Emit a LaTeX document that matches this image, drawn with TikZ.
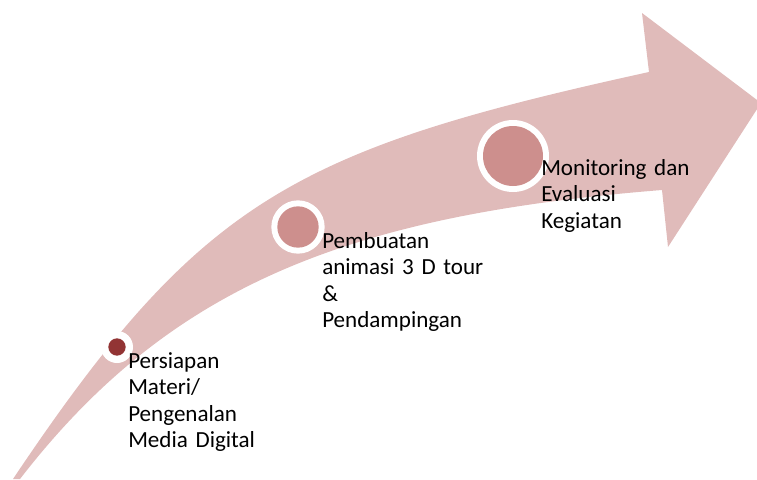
\documentclass[tikz,border=0pt]{standalone}
\usepackage{fontspec}
\setmainfont{Carlito}
\definecolor{arrowpink}{HTML}{E0BBBA}
\definecolor{dotpink}{HTML}{CD8F8D}
\definecolor{dotdark}{HTML}{923434}
\begin{document}
\begin{tikzpicture}[x=0.75pt,y=-0.75pt,
  ring/.style={circle,fill=white,inner sep=0pt},
  dot/.style={circle,inner sep=0pt},
  label/.style={anchor=base west,inner sep=0pt,align=left,text width=200pt,
    font=\fontsize{17.3}{19.9}\selectfont,text=black}]
\useasboundingbox (0,0) rectangle (757,479);
\clip (0,0) rectangle (757,479);
% curved arrow
\fill[arrowpink] (13,479) .. controls (200,200) and (293,150) .. (649,72)
  -- (642,13) -- (761,103) -- (668,247) -- (662,190)
  .. controls (349,215) and (170,285) .. (20,479) -- cycle;
% circles
\node[ring,minimum size=24] (r1) at (117,347) {};
\node[dot,fill=dotdark,minimum size=13] (c1) at (r1) {};
\node[ring,minimum size=40] (r2) at (298,227) {};
\node[dot,fill=dotpink,minimum size=31] (c2) at (r2) {};
\node[ring,minimum size=54] (r3) at (513,156) {};
\node[dot,fill=dotpink,minimum size=45] (c3) at (r3) {};
% labels
\node[label] (t1) at (128,368) {Persiapan\\Materi/\\Pengenalan\\Media Digital};
\node[label] (t2) at (322,248) {Pembuatan\\animasi 3 D tour\\\&\\Pendampingan};
\node[label] (t3) at (541,175) {Monitoring dan\\Evaluasi\\Kegiatan};
\end{tikzpicture}
\end{document}
